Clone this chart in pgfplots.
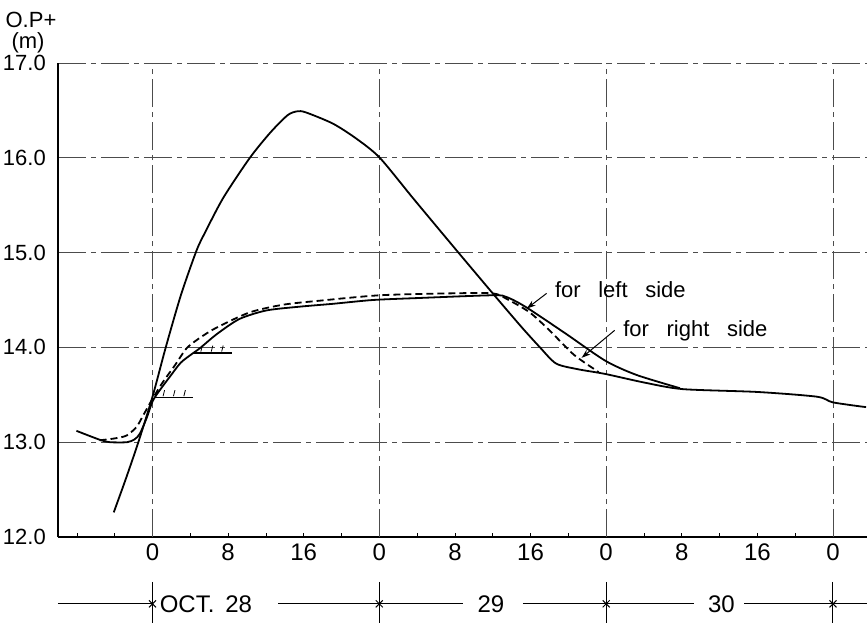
\documentclass[border=0pt]{standalone}
\usepackage{pgfplots}
\pgfplotsset{compat=1.18}
\usepackage{fontspec}
\setmainfont{Liberation Sans}
\usetikzlibrary{arrows.meta}

\newcommand{\lab}{\fontsize{22}{26}\selectfont}
\newcommand{\labx}{\fontsize{24}{28}\selectfont}

\begin{document}
\begin{tikzpicture}
\useasboundingbox (-58pt,-86pt) rectangle (809pt,537pt);
\begin{axis}[
  scale only axis, width=809pt, height=474pt,
  xmin=-10, xmax=75.6, ymin=12, ymax=17,
  axis x line=bottom, axis y line=left,
  axis line style={-, line width=1.6pt},
  clip=false,
  xtick={0,8,...,72},
  xticklabels={0,8,16,0,8,16,0,8,16,0},
  minor xtick={-8,-4,4,12,20,28,36,44,52,60,68},
  extra x ticks={0,24,48,72},
  extra x tick labels={},
  extra x tick style={grid=major, major tick length=0pt},
  ytick={12,13,14,15,16,17},
  ymajorgrids,
  major grid style={line width=0.8pt, black!70, dash pattern=on 28pt off 5pt on 5pt off 5pt},
  x tick style={black, line width=0.8pt},
  ytick style={draw=none},
  major tick length=4pt, minor tick length=4pt,
  tick align=inside,
  /pgf/number format/assume math mode=true,
  yticklabel style={font=\lab, xshift=-8.7pt, /pgf/number format/.cd, fixed, fixed zerofill, precision=1},
  xticklabel style={font=\labx, yshift=-3pt},
  every axis plot/.append style={line width=1.8pt, black},
]

% water level at the main station
\addplot[smooth, tension=0.45] coordinates {
 (-4.1,12.26) (-2.8,12.62) (-1.5,13.0) (0,13.48) (1.4,14.0) (3,14.55)
 (4.65,15.02) (5.6,15.22) (7.5,15.58) (10.3,16.0) (12.5,16.27) (14.3,16.45)
 (15.3,16.49) (16.2,16.48) (19.1,16.36) (21.6,16.2) (24.05,16.0) (27.6,15.57)
 (32.2,15.02) (36,14.57) (39,14.22) (41,14.0) (42.7,13.83) (45,13.77)
 (47.9,13.72) (52,13.63) (56.1,13.56) (64,13.53) (70.3,13.48) (72,13.42)
 (75.5,13.37)};

% left side
\addplot[smooth, tension=0.45] coordinates {
 (-8.05,13.12) (-6.5,13.06) (-5.4,13.02) (-4.5,13.0) (-2.7,13.0) (-1.9,13.03)
 (-1.34,13.09) (-0.64,13.25) (0.05,13.44) (1.0,13.58) (1.83,13.69) (3,13.84)
 (4.3,13.94) (5.0,13.99) (6.8,14.14) (9.2,14.30) (12.06,14.39) (15.6,14.43)
 (19.1,14.46) (23.3,14.50) (27.9,14.52) (36,14.55) (37.5,14.53) (39.6,14.42)
 (43.8,14.14) (47.9,13.86) (51.2,13.71) (55.8,13.57)};

% right side
\addplot[smooth, tension=0.45, dash pattern=on 7pt off 4pt] coordinates {
 (-5.6,13.02) (-4,13.04) (-2.75,13.07) (-1.7,13.16) (-1.0,13.28) (-0.1,13.44)
 (1.0,13.62) (2.36,13.81) (3.6,13.99) (5,14.1) (6.8,14.21) (10.3,14.37)
 (13.8,14.45) (17.4,14.49) (24.05,14.55) (31.5,14.57) (36,14.57) (37.5,14.51)
 (39.9,14.37) (42,14.18) (44.5,13.93) (46.6,13.78) (47.2,13.74)};

% short level marks with hatching
\draw[line width=1.3pt] (axis cs:4.27,13.94) -- (axis cs:8.4,13.94);
\draw[line width=1.3pt] (axis cs:0.24,13.47) -- (axis cs:4.27,13.47);
\pgfplotsinvokeforeach{4.8,5.9,7.0}{
  \draw[line width=0.8pt] (axis cs:#1,13.94) ++(0,1.5pt) -- ++(1.5pt,6pt);
  \draw[line width=0.8pt] (axis cs:#1,13.94) ++(3pt,1.5pt) -- ++(1.5pt,6pt);
}
\pgfplotsinvokeforeach{0.8,1.9,3.0}{
  \draw[line width=0.8pt] (axis cs:#1,13.47) ++(0,1.5pt) -- ++(1.5pt,6pt);
  \draw[line width=0.8pt] (axis cs:#1,13.47) ++(3pt,1.5pt) -- ++(1.5pt,6pt);
}

% annotations
\node[anchor=base west, inner sep=0pt, font=\lab] at (axis cs:42.57,14.53)
  {for\hspace{0.8em}left\hspace{0.8em}side};
\draw[line width=1pt, -{Stealth[length=9pt,width=6pt]}] (axis cs:41.7,14.57) -- (axis cs:39.6,14.41);
\node[anchor=base west, inner sep=0pt, font=\lab] at (axis cs:49.8,14.116)
  {for\hspace{0.8em}right\hspace{0.8em}side};
\draw[line width=1pt, -{Stealth[length=9pt,width=6pt]}] (axis cs:48.9,14.18) -- (axis cs:45.4,13.89);

% date row
\draw[line width=1pt] (axis cs:-10,11.295) -- (axis cs:0,11.295);
\draw[line width=1pt] (axis cs:13.3,11.295) -- (axis cs:32.8,11.295);
\draw[line width=1pt] (axis cs:39.2,11.295) -- (axis cs:57.3,11.295);
\draw[line width=1pt] (axis cs:62.6,11.295) -- (axis cs:75.6,11.295);
\pgfplotsinvokeforeach{0,24,48,72}{
  \draw[line width=1pt] (axis cs:#1,11.526) -- (axis cs:#1,11.09);
  \draw[line width=1pt] (axis cs:#1,11.295) ++(-3.5pt,-3.5pt) -- ++(7pt,7pt);
  \draw[line width=1pt] (axis cs:#1,11.295) ++(-3.5pt,3.5pt) -- ++(7pt,-7pt);
}
\node[anchor=west, inner sep=0pt, font=\labx] at (axis cs:0.75,11.295) {OCT.\hspace{0.45em}28};
\node[inner sep=0pt, font=\labx] at (axis cs:35.8,11.295) {29};
\node[inner sep=0pt, font=\labx] at (axis cs:60.2,11.295) {30};
\end{axis}

% unit label of the vertical axis
\node[font=\lab, inner sep=0pt] at (-27pt,517pt) {O.P+};
\node[font=\lab, inner sep=0pt] at (-30pt,494pt) {(m)};
\end{tikzpicture}
\end{document}
